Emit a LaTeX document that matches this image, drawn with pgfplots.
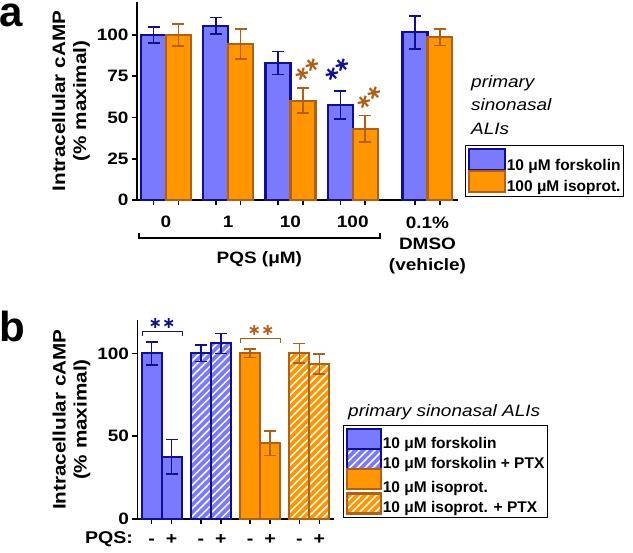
\documentclass[border=0pt]{standalone}
\usepackage{fontspec}
\setmainfont{Liberation Sans}
\newfontfamily\wide{Liberation Sans}[FakeStretch=1.15]
\newfontfamily\dejavu{DejaVu Sans}
\usepackage{pgfplots}
\pgfplotsset{compat=1.18}
\usetikzlibrary{patterns.meta}
\definecolor{bfill}{RGB}{122,122,255}
\definecolor{bedge}{RGB}{14,14,150}
\definecolor{ofill}{RGB}{255,150,0}
\definecolor{oedge}{RGB}{178,95,20}
\tikzset{glab/.style={font=\wide\bfseries\fontsize{16.5}{21}\selectfont, anchor=base, inner sep=0pt},
  star/.style={font=\dejavu\bfseries\fontsize{20}{20}\selectfont, inner sep=0pt}}
\pgfplotsset{
  barstyle/.style={ybar, line width=2.2pt, bar shift=0pt},
  blueb/.style={barstyle, fill=bfill, draw=bedge,
    error bars/y dir=both, error bars/y explicit,
    error bars/error bar style={line width=1.6pt, draw=bedge},
    error bars/error mark options={line width=1.6pt, draw=bedge, mark size=6pt, rotate=90}},
  orangeb/.style={barstyle, fill=ofill, draw=oedge,
    error bars/y dir=both, error bars/y explicit,
    error bars/error bar style={line width=1.6pt, draw=oedge},
    error bars/error mark options={line width=1.6pt, draw=oedge, mark size=6pt, rotate=90}},
  hatch/.style={postaction={pattern={Lines[angle=45,distance=5.5pt,line width=1.5pt]}, pattern color=white}},
  common/.style={
    scale only axis, clip=false,
    axis x line*=bottom, axis y line*=left,
    axis line style={line width=1.6pt, black},
    tick align=outside, major tick length=5pt,
    tick style={line width=1.6pt, black},
    ymin=0, ymax=120,
    yticklabel style={font=\wide\bfseries\fontsize{16.5}{18}\selectfont},
    /pgf/number format/assume math mode=true,
    ylabel={Intracellular cAMP\\(\% maximal)},
    ylabel style={align=center, font=\wide\bfseries\fontsize{18}{21}\selectfont},
    legend cell align=left,
  },
}
\begin{document}
\begin{tikzpicture}[x=1pt,y=1pt]
\useasboundingbox (0,0) rectangle (633,553);
% ---------------- panel a ----------------
\begin{axis}[common,
  at={(137pt,353pt)}, anchor=south west,
  width=321pt, height=198pt,
  xmin=-0.465, xmax=4.69,
  ytick={0,25,50,75,100},
  xtick={-0.2,0.2,0.8,1.2,1.8,2.2,2.8,3.2,4.0,4.4},
  xticklabels={},
  legend style={at={(1.022,0.278)}, anchor=north west, draw=black, line width=1.2pt,
    font=\bfseries\fontsize{15.5}{18}\selectfont, inner sep=2.5pt, row sep=-2.2pt,
    nodes={inner sep=0.5pt}},
  legend image code/.code={\draw[#1] (0pt,-5pt) rectangle (36pt,16pt);},
]
\addplot[blueb, bar width=0.4] coordinates {
  (-0.2,100) +- (0,5) (0.8,105.6) +- (0,5) (1.8,83) +- (0,7) (2.8,57.6) +- (0,8.5) (4.0,101.6) +- (0,10)};
\addlegendentry{10 μM forskolin}
\addplot[orangeb, bar width=0.4] coordinates {
  (0.2,100) +- (0,6.5) (1.2,94.6) +- (0,9) (2.2,60.2) +- (0,7.5) (3.2,43.2) +- (0,8) (4.4,98.6) +- (0,5)};
\addlegendentry{100 μM isoprot.}
% significance stars
\node[star, text=oedge, rotate=43] at (axis cs:2.27,79.1) {∗\kern-3pt∗};
\node[star, text=bedge, rotate=43] at (axis cs:2.76,79) {∗\kern-3pt∗};
\node[star, text=oedge, rotate=43] at (axis cs:3.26,62) {∗\kern-3pt∗};
% group labels
\node[glab] at ([yshift=-28pt]axis cs:0,0) {0};
\node[glab] at ([yshift=-28pt]axis cs:1,0) {1};
\node[glab] at ([yshift=-28pt]axis cs:2,0) {10};
\node[glab] at ([yshift=-28pt]axis cs:3,0) {100};
\node[font=\wide\bfseries\fontsize{16.5}{21}\selectfont, anchor=north, inner sep=0pt, align=center]
  at ([yshift=-16.5pt]axis cs:4.2,0) {0.1\%\\DMSO\\(vehicle)};
\draw[line width=1.2pt] ([yshift=-33pt]axis cs:-0.434,0) -- ([yshift=-38pt]axis cs:-0.434,0)
  -- ([yshift=-38pt]axis cs:3.437,0) -- ([yshift=-33pt]axis cs:3.437,0);
\node[glab] at ([yshift=-64pt]axis cs:1.5,0) {PQS (μM)};
\end{axis}
\node[font=\wide\itshape\fontsize{16.5}{20}\selectfont, anchor=base west, inner sep=0pt] at (471,465.5) {primary};
\node[font=\wide\itshape\fontsize{16.5}{20}\selectfont, anchor=base west, inner sep=0pt] at (471,442) {sinonasal};
\node[font=\wide\itshape\fontsize{16.5}{20}\selectfont, anchor=base west, inner sep=0pt] at (471,418.5) {ALIs};
\node[font=\bfseries\fontsize{42}{42}\selectfont, anchor=base west, inner sep=0pt, text height=22pt] at (-1,526.5) {a};
% ---------------- panel b ----------------
\begin{axis}[common,
  at={(137.5pt,34pt)}, anchor=south west,
  width=196.5pt, height=198.8pt,
  xmin=-0.49, xmax=3.5,
  ytick={0,50,100},
  xtick={-0.203,0.203,0.797,1.203,1.797,2.203,2.797,3.203},
  xticklabels={-,+,-,+,-,+,-,+},
  xticklabel style={font=\wide\bfseries\fontsize{17}{19}\selectfont, yshift=-7pt, text height=10pt, text depth=0pt},
  legend style={at={(1.046,0.473)}, anchor=north west, draw=black, line width=1.2pt,
    font=\bfseries\fontsize{15.5}{18}\selectfont, inner sep=2.5pt, row sep=-2.2pt,
    nodes={inner sep=0.5pt}},
  legend image code/.code={\draw[#1] (0pt,-6pt) rectangle (34pt,14pt);},
]
\addplot[blueb, bar width=0.406] coordinates {
  (-0.203,100) +- (0,7) (0.203,37.6) +- (0,10.5)};
\addlegendentry{10 μM forskolin}
\addplot[blueb, hatch, bar width=0.406] coordinates {
  (0.797,100) +- (0,5) (1.203,106) +- (0,6)};
\addlegendentry{10 μM forskolin + PTX}
\addplot[orangeb, bar width=0.406] coordinates {
  (1.797,100) +- (0,2.5) (2.203,45.7) +- (0,7.3)};
\addlegendentry{\rule{0pt}{20.5pt}10 μM isoprot.}
\addplot[orangeb, hatch, bar width=0.406] coordinates {
  (2.797,100) +- (0,6) (3.203,93.7) +- (0,6)};
\addlegendentry{10 μM isoprot. + PTX}
\draw[bedge, line width=1.2pt] (axis cs:-0.386,110.4) -- (axis cs:-0.386,113.2) -- (axis cs:0.418,113.2) -- (axis cs:0.418,110.4);
\node[star, text=bedge, font=\dejavu\bfseries\fontsize{16}{16}\selectfont] at (axis cs:0.01,118) {∗∗};
\draw[oedge, line width=1.2pt] (axis cs:1.60,106) -- (axis cs:1.60,109) -- (axis cs:2.42,109) -- (axis cs:2.42,106);
\node[star, text=oedge, font=\dejavu\bfseries\fontsize{16}{16}\selectfont] at (axis cs:2.02,113.5) {∗∗};
\end{axis}
\node[font=\wide\bfseries\fontsize{17}{19}\selectfont, anchor=base east, inner sep=0pt] at (133,9.5) {PQS:};
\node[font=\wide\itshape\fontsize{16.5}{20}\selectfont, anchor=base west, inner sep=0pt] at (348,136) {primary sinonasal ALIs};
\node[font=\bfseries\fontsize{42}{42}\selectfont, anchor=base west, inner sep=0pt] at (-1,211.5) {b};
\end{tikzpicture}
\end{document}
